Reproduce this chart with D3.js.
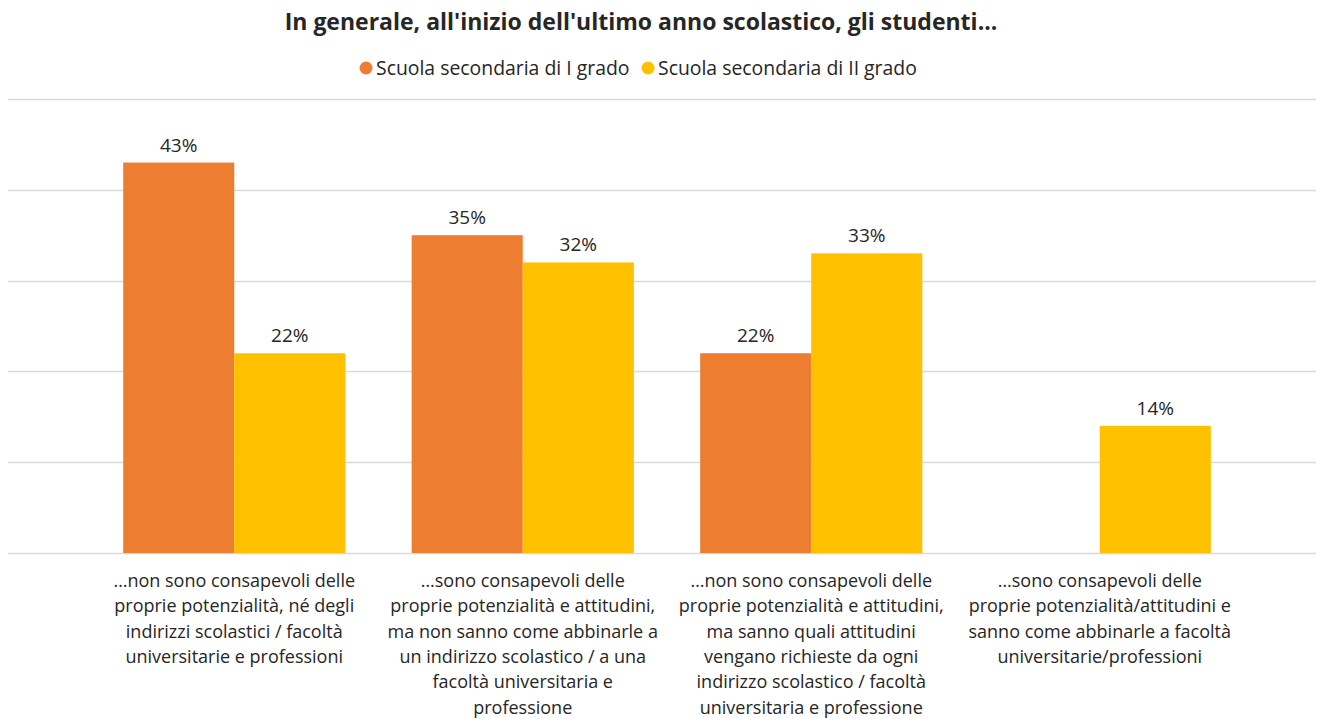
<!DOCTYPE html>
<html>
<head>
<meta charset="utf-8">
<script src="https://cdn.jsdelivr.net/npm/d3@7"></script>
<style>
  html, body { margin: 0; padding: 0; background: #fff; }
  svg { display: block; font-family: "Open Sans", Lato, sans-serif; }
</style>
</head>
<body>
<svg id="chart" width="1317" height="719"></svg>
<script>
// Categories (one label per group, already split into lines)
const categories = [
  ["…non sono consapevoli delle", "proprie potenzialità, né degli", "indirizzi scolastici / facoltà", "universitarie e professioni"],
  ["…sono consapevoli delle", "proprie potenzialità e attitudini,", "ma non sanno come abbinarle a", "un indirizzo scolastico / a una", "facoltà universitaria e", "professione"],
  ["…non sono consapevoli delle", "proprie potenzialità e attitudini,", "ma sanno quali attitudini", "vengano richieste da ogni", "indirizzo scolastico / facoltà", "universitaria e professione"],
  ["…sono consapevoli delle", "proprie potenzialità/attitudini e", "sanno come abbinarle a facoltà", "universitarie/professioni"]
];
const seriesNames = ["Scuola secondaria di I grado", "Scuola secondaria di II grado"];
const primaryValues = [43, 35, 22, null];     // Scuola secondaria di I grado (%)
const secondaryValues = [22, 32, 33, 14];     // Scuola secondaria di II grado (%)
const gridTicks = [0, 10, 20, 30, 40, 50];
const colors = ["#ED7D31", "#FFC000"];
const title = "In generale, all'inizio dell'ultimo anno scolastico, gli studenti...";

const svg = d3.select("#chart");
const plot = { left: 8, right: 1316, top: 99, bottom: 553 };

const y = d3.scaleLinear().domain([0, 50]).range([plot.bottom, plot.top]);
const x0 = d3.scaleBand().domain(d3.range(categories.length)).range([90, 1244]).paddingInner(0.23).paddingOuter(0.115);
const x1 = d3.scaleBand().domain([0, 1]).range([0, x0.bandwidth()]);

// Horizontal gridlines
svg.append("g")
  .selectAll("line")
  .data(gridTicks)
  .join("line")
  .attr("x1", plot.left).attr("x2", plot.right)
  .attr("y1", d => Math.round(y(d)) + 0.5).attr("y2", d => Math.round(y(d)) + 0.5)
  .attr("stroke", "#D9D9D9").attr("stroke-width", 1.5);

// Bars
const rows = categories.map((c, i) => [primaryValues[i], secondaryValues[i]]);
const groups = svg.append("g").selectAll("g")
  .data(rows)
  .join("g")
  .attr("transform", (d, i) => `translate(${x0(i)},0)`);

groups.selectAll("rect")
  .data(d => d.map((v, s) => ({ v, s })).filter(e => e.v !== null))
  .join("rect")
  .attr("x", e => x1(e.s))
  .attr("width", x1.bandwidth())
  .attr("y", e => y(e.v))
  .attr("height", e => y(0) - y(e.v))
  .attr("fill", e => colors[e.s]);

// Value labels
groups.selectAll("text")
  .data(d => d.map((v, s) => ({ v, s })).filter(e => e.v !== null))
  .join("text")
  .attr("x", e => x1(e.s) + x1.bandwidth() / 2)
  .attr("y", e => y(e.v) - 11)
  .attr("text-anchor", "middle")
  .attr("font-size", 19)
  .attr("fill", "#262626")
  .text(e => e.v + "%");

// Category labels
const catLabels = svg.append("g").selectAll("text")
  .data(categories)
  .join("text")
  .attr("text-anchor", "middle")
  .attr("font-size", 18)
  .attr("fill", "#262626")
  .attr("transform", (d, i) => `translate(${x0(i) + x0.bandwidth() / 2},587)`);
catLabels.selectAll("tspan")
  .data(d => d)
  .join("tspan")
  .attr("x", 0)
  .attr("y", (d, k) => k * 25.3)
  .text(d => d);

// Title
svg.append("text")
  .attr("x", 641).attr("y", 30)
  .attr("text-anchor", "middle")
  .attr("font-size", 23).attr("font-weight", "bold")
  .attr("fill", "#262626")
  .text(title);

// Legend
const legendItems = [
  { name: seriesNames[0], color: colors[0], cx: 366 },
  { name: seriesNames[1], color: colors[1], cx: 648 }
];
const legend = svg.append("g").selectAll("g")
  .data(legendItems)
  .join("g")
  .attr("transform", d => `translate(${d.cx},68)`);
legend.append("circle").attr("r", 6.5).attr("fill", d => d.color);
legend.append("text")
  .attr("x", 10).attr("y", 7)
  .attr("font-size", 19.4)
  .attr("fill", "#262626")
  .text(d => d.name);
</script>
</body>
</html>
